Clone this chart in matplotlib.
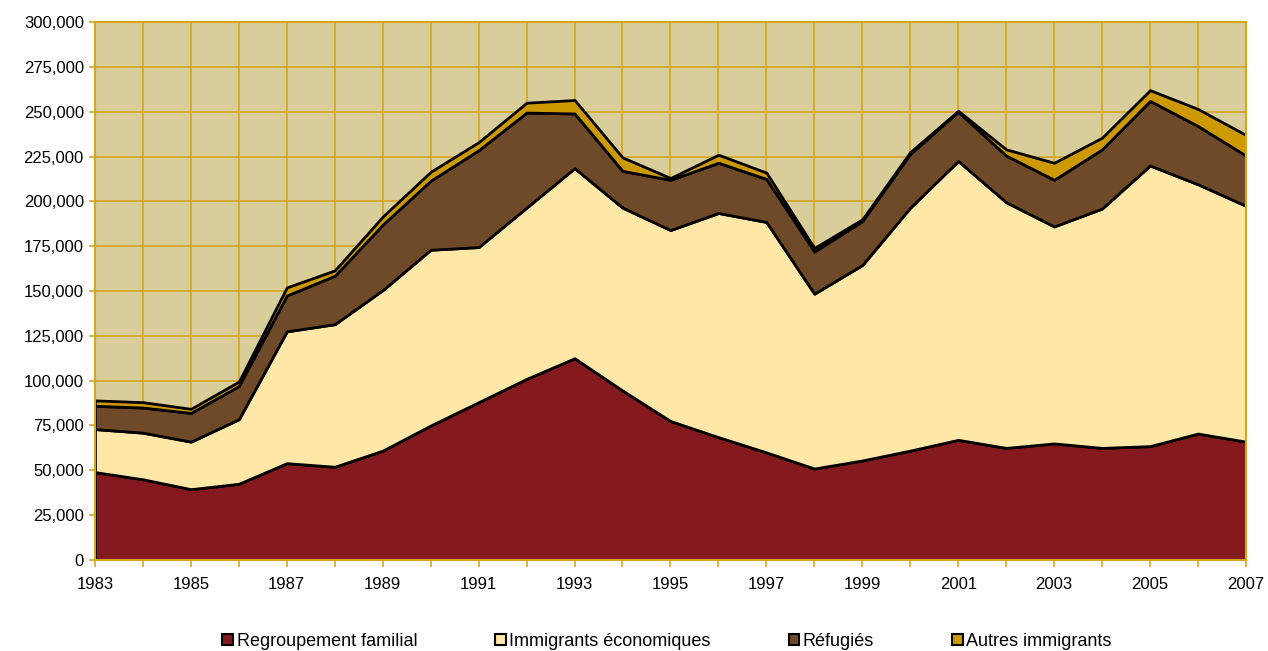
import matplotlib
matplotlib.use("Agg")
import matplotlib.pyplot as plt
from matplotlib.ticker import FuncFormatter, MultipleLocator
import numpy as np

plt.rcParams['font.family'] = ['Liberation Sans', 'DejaVu Sans']

years = list(range(1983, 2008))
familial = [49000, 45000, 39500, 42500, 54000, 52000, 61000, 75000, 88000, 101000,
            112500, 94500, 77500, 68500, 60000, 51000, 55500, 61000, 67000, 62500,
            65000, 62500, 63500, 70500, 66000]
economiques = [24000, 26000, 26500, 36000, 73500, 79500, 89500, 98000, 86500, 95500,
               106000, 102000, 106500, 125000, 128500, 97500, 109000, 135500, 155500, 137000,
               121000, 133500, 156500, 139000, 131500]
refugies = [13000, 14000, 16000, 18500, 20000, 27000, 36500, 38500, 54000, 53000,
            30500, 20500, 28000, 28000, 24000, 23500, 24500, 30000, 27500, 26000,
            26000, 33000, 36000, 32500, 28000]
autres = [3000, 3000, 2300, 2500, 4500, 3000, 4500, 5000, 4500, 5500,
          7500, 7500, 1000, 4500, 3500, 2000, 1000, 1000, 500, 3500,
          9500, 6500, 6000, 9500, 11500]
labels = ["Regroupement familial", "Immigrants économiques", "Réfugiés", "Autres immigrants"]
colors = ["#841A1E", "#FFE7A7", "#6F4A28", "#CC9A00"]

gold = "#D4A520"

fig = plt.figure(figsize=(12.68, 6.51), dpi=100)
ax = fig.add_axes([0.0749, 0.1398, 0.9077, 0.8264])
ax.set_facecolor("#D9CD9A")

polys = ax.stackplot(years, familial, economiques, refugies, autres,
                     colors=colors, labels=labels, edgecolor="black", linewidth=2.0, zorder=3)

ax.set_xlim(1983, 2007)
ax.set_ylim(0, 300000)
ax.set_xticks(years[::2])
ax.xaxis.set_minor_locator(MultipleLocator(1))
ax.yaxis.set_major_locator(MultipleLocator(25000))
ax.yaxis.set_major_formatter(FuncFormatter(lambda v, p: f"{int(v):,}"))
ax.set_axisbelow(True)
ax.grid(True, which="both", axis="x", color=gold, linewidth=1.2, zorder=0)
ax.grid(True, which="major", axis="y", color=gold, linewidth=1.2, zorder=0)

for s in ax.spines.values():
    s.set_color(gold)
    s.set_linewidth(1.5)
    s.set_zorder(4)

ax.tick_params(axis="both", which="both", colors=gold, labelcolor="black", labelsize=12)
ax.tick_params(axis="x", which="both", length=5, width=1.2, pad=7)
ax.tick_params(axis="y", length=4, width=1.2, pad=4)

leg = ax.legend(loc="upper center", bbox_to_anchor=(0.497, -0.105), ncol=4, frameon=False,
                fontsize=13, handlelength=0.6, handleheight=0.6, handletextpad=0.2,
                columnspacing=4.3)
for h in leg.legend_handles:
    h.set_edgecolor("black")
    h.set_linewidth(1.5)

fig.savefig("out.png", dpi=100)
